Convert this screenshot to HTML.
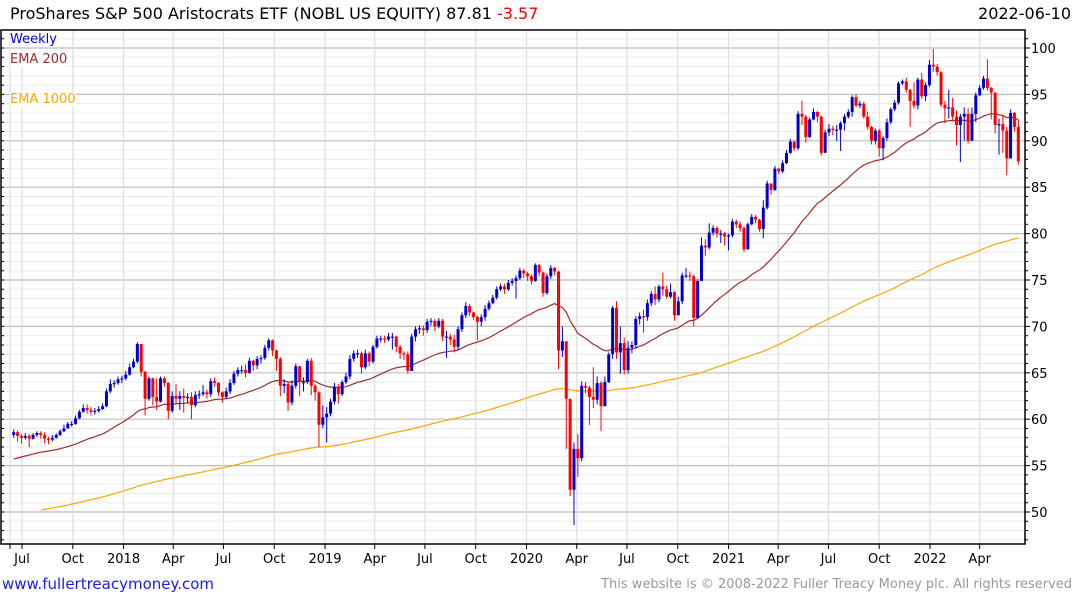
<!DOCTYPE html>
<html><head><meta charset="utf-8"><style>
html,body{margin:0;padding:0;background:#fff;}
body{width:1075px;height:600px;overflow:hidden;position:relative;font-family:"DejaVu Sans","Liberation Sans",sans-serif;}
.t{position:absolute;white-space:nowrap;}
</style></head><body>
<div class="t" style="left:10px;top:4px;font-size:16px;color:#000;">ProShares S&amp;P 500 Aristocrats ETF (NOBL US EQUITY) 87.81 <span style="color:#e00;">-3.57</span></div>
<div class="t" style="right:4px;top:4px;font-size:16px;color:#000;">2022-06-10</div>
<svg id="chart" width="1075" height="600" style="position:absolute;left:0;top:0;" xmlns="http://www.w3.org/2000/svg"></svg>
<div class="t" style="left:10px;top:32px;font-size:13px;color:#0000dd;background:#fff;">Weekly</div>
<div class="t" style="left:10px;top:52px;font-size:13px;color:#a52a2a;background:#fff;">EMA 200</div>
<div class="t" style="left:10px;top:92px;font-size:13px;color:#ffa500;background:#fff;">EMA 1000</div>
<div class="t" style="left:2px;top:575px;font-size:15px;color:#1a1aee;">www.fullertreacymoney.com</div>
<div class="t" style="right:3px;top:577px;font-size:13px;color:#999;">This website is © 2008-2022 Fuller Treacy Money plc. All rights reserved</div>
<script>
const closes=[58.6,58.2,58.0,58.2,57.9,58.3,58.5,58.3,57.9,57.8,58.0,58.3,58.7,59.0,59.5,59.5,60.1,60.8,61.2,61.0,60.8,60.9,61.1,61.4,63.0,63.8,63.9,64.3,64.4,64.8,65.6,66.2,68.1,65.1,62.2,64.4,62.4,61.9,64.4,63.9,60.9,62.5,62.2,62.5,62.3,62.4,61.5,62.6,62.7,62.9,62.7,64.1,63.9,62.9,62.4,63.0,63.9,64.9,65.3,65.3,65.0,66.3,65.8,66.5,66.6,67.7,68.5,67.4,66.5,63.6,63.8,61.8,63.6,65.7,64.0,64.0,66.3,63.6,62.9,59.4,60.2,60.6,61.9,63.5,62.7,64.0,64.6,66.5,67.1,67.1,65.6,67.1,66.2,67.8,68.7,68.7,68.6,68.9,68.9,67.8,67.1,67.0,65.2,68.9,69.7,69.8,69.6,70.5,70.6,70.0,70.6,68.9,68.9,68.6,67.8,69.7,71.2,72.2,71.5,71.0,70.5,71.0,71.9,72.5,73.1,74.0,74.3,74.0,74.7,74.9,75.2,76.0,75.7,75.4,74.9,76.6,75.8,73.6,75.4,76.3,75.9,67.4,68.4,62.2,52.4,56.8,55.8,63.6,63.4,62.4,62.1,63.9,61.4,64.0,67.0,72.0,67.2,68.2,65.3,67.7,68.0,70.8,71.1,71.0,72.5,73.5,72.9,74.3,74.0,73.2,73.7,71.2,72.7,75.5,75.5,75.4,70.9,74.9,78.7,78.5,80.1,80.6,80.0,80.0,79.7,79.8,81.3,81.0,80.6,78.3,81.0,81.8,81.5,80.5,82.8,85.4,84.7,87.0,86.7,87.6,88.7,89.9,89.2,92.9,92.6,90.4,92.3,93.1,92.6,88.7,90.9,91.3,91.2,91.2,91.9,92.6,93.1,94.7,93.8,94.0,92.6,91.5,90.0,91.1,89.2,90.3,92.0,93.4,94.1,96.2,96.4,95.5,94.3,93.8,96.6,94.8,96.0,98.2,98.0,97.4,93.9,93.5,93.6,92.6,91.7,92.6,92.9,90.0,92.9,94.9,95.7,96.7,95.7,95.2,91.7,91.8,91.1,88.1,93.0,91.5,87.8];
const highs=[58.9,58.8,58.4,58.5,58.4,58.5,58.7,58.7,58.6,58.1,58.3,58.5,58.9,59.4,59.7,59.8,60.4,61.0,61.6,61.6,61.3,61.2,61.4,61.7,63.3,64.3,64.2,64.6,64.7,65.2,66.0,66.5,68.3,68.0,65.2,64.6,64.5,64.4,64.6,64.6,64.0,63.0,63.8,63.0,63.3,62.8,62.9,63.0,63.1,63.7,63.2,64.4,64.5,64.0,63.0,63.4,64.3,65.2,65.6,65.8,65.9,66.6,66.4,66.8,66.9,68.0,68.7,68.6,67.5,66.7,64.3,64.0,64.2,66.0,65.8,64.5,66.5,66.6,63.8,63.0,61.5,61.3,62.2,63.9,63.8,64.2,65.0,66.9,67.4,67.5,67.3,67.5,67.3,68.0,69.0,69.0,69.0,69.3,69.3,69.0,68.0,67.3,67.3,69.2,70.0,70.1,70.1,70.8,70.9,70.8,70.9,70.8,69.5,69.2,69.1,70.0,71.5,72.6,72.4,71.6,71.2,71.3,72.3,72.8,73.4,74.3,74.6,74.6,75.0,75.2,75.5,76.3,76.2,75.9,75.6,76.8,76.7,75.9,75.7,76.6,76.4,76.0,70.0,66.8,60.0,57.5,58.4,64.1,64.0,63.6,65.6,64.6,64.1,64.6,67.2,72.2,72.7,70.0,68.8,68.4,68.4,71.1,71.5,71.8,72.9,73.8,74.3,74.5,75.8,74.4,74.6,73.8,73.2,75.8,76.3,75.9,75.6,75.1,79.6,79.4,81.1,80.9,80.8,80.4,80.2,80.0,81.6,81.5,81.3,80.8,81.2,82.1,82.0,81.6,83.6,85.7,85.4,87.3,87.1,87.9,89.0,90.2,90.0,93.2,94.3,92.8,92.5,93.5,93.2,92.7,91.2,91.8,91.6,91.7,92.1,92.9,93.4,94.9,95.0,94.3,94.2,93.1,91.6,91.3,91.3,90.5,92.4,93.6,94.4,96.4,96.6,96.8,95.6,96.3,96.8,97.3,96.3,98.7,99.9,98.3,97.5,94.3,95.5,94.6,93.3,92.9,93.6,93.5,93.6,95.2,96.0,97.0,98.8,95.8,95.2,92.4,92.8,91.5,93.4,93.1,92.3];
const lows=[58.0,57.6,57.4,57.8,57.0,57.8,58.1,57.9,57.4,57.3,57.6,57.9,58.2,58.6,59.0,59.2,59.4,60.0,60.7,60.6,60.4,60.5,60.7,61.0,61.3,62.8,63.4,63.7,63.9,64.2,64.7,65.5,66.0,64.6,60.4,62.0,61.5,61.0,61.8,63.5,60.0,60.7,61.6,61.0,60.7,61.8,60.0,61.3,62.2,62.5,62.2,62.4,63.5,62.5,61.8,62.2,62.7,63.7,64.6,64.9,64.5,64.9,65.2,65.4,66.0,66.4,67.4,66.8,65.2,62.5,62.8,60.9,61.5,63.3,62.5,63.0,63.8,62.6,62.0,57.0,59.0,57.5,60.3,61.6,61.7,62.5,63.8,64.3,66.2,66.6,64.9,65.4,65.7,66.0,67.6,68.3,68.2,68.4,67.5,67.2,66.5,66.4,64.9,65.2,68.4,69.2,69.0,69.3,70.1,69.5,69.8,68.4,66.6,68.0,67.2,67.4,69.4,70.9,71.1,70.7,68.5,70.0,70.6,71.7,72.4,72.9,73.8,73.5,73.8,74.4,73.0,75.0,75.2,74.9,74.5,74.8,75.4,73.2,73.4,75.1,75.5,65.4,66.7,56.8,51.7,48.6,53.8,55.5,62.8,59.4,61.2,61.6,58.7,63.2,63.9,66.5,66.5,64.9,64.8,64.9,67.1,67.6,70.2,69.3,70.6,72.2,72.3,72.6,73.3,73.0,73.0,70.6,71.4,72.4,75.2,74.9,70.0,71.3,76.6,77.6,78.3,79.8,79.6,79.0,78.7,78.2,79.6,80.6,80.2,78.0,78.3,80.9,81.1,80.2,79.5,82.6,84.2,84.6,86.4,86.5,87.5,88.6,88.9,89.0,91.7,89.8,90.3,92.2,92.0,88.4,88.9,90.5,90.6,90.0,88.9,91.1,92.4,92.6,93.6,93.5,92.4,91.2,89.6,89.6,88.3,87.9,90.0,91.8,93.2,93.9,96.0,95.2,91.5,93.5,93.4,94.5,94.3,95.8,97.4,97.0,93.6,91.9,92.4,92.1,89.5,87.7,90.0,89.7,90.1,92.0,94.8,95.5,95.4,92.3,90.8,88.5,88.7,86.3,88.2,91.0,87.4];
const yTicks=[50,55,60,65,70,75,80,85,90,95,100];
const xTickLabels=["Jul","Oct","2018","Apr","Jul","Oct","2019","Apr","Jul","Oct","2020","Apr","Jul","Oct","2021","Apr","Jul","Oct","2022","Apr"];
const xTickDates=["2017-07-01","2017-10-01","2018-01-01","2018-04-01","2018-07-01","2018-10-01","2019-01-01","2019-04-01","2019-07-01","2019-10-01","2020-01-01","2020-04-01","2020-07-01","2020-10-01","2021-01-01","2021-04-01","2021-07-01","2021-10-01","2022-01-01","2022-04-01"];
const lastDate="2022-06-10";
const ema200Period=40, ema200Seed=55.7;
const ema1000Period=200, ema1000Seed=50.2, ema1000Start=7;

const svg=document.getElementById('chart');
const NS='http://www.w3.org/2000/svg';
const L=1,R=1025,T=30,B=544;
const DAY=86400000;
const d0=Date.parse("2017-07-01");
const pxPerDay=(930-22)/(Date.parse("2022-01-01")-d0)*DAY;
function xOfDate(ms){return 22+(ms-d0)/DAY*pxPerDay;}
function yOf(p){return 512-(p-50)*9.28;}
const n=closes.length;
const lastMs=Date.parse(lastDate);
function xOf(i){return xOfDate(lastMs-(n-1-i)*7*DAY);}
function mk(tag,attrs,parent){const e=document.createElementNS(NS,tag);for(const k in attrs)e.setAttribute(k,attrs[k]);(parent||svg).appendChild(e);return e;}

const grid=mk('g',{});


for(let p=47;p<=101;p++){
  const y=yOf(p);if(y<T||y>B)continue;
  const g=mk('line',{x1:L,x2:R,y1:y,y2:y,stroke:p%5===0?'#bdbdbd':'#ececec','stroke-width':p%5===0?1.2:1},grid);
  
  
}
const vx=[10].concat(xTickDates.map(d=>xOfDate(Date.parse(d))));
vx.forEach(x=>{
  const g=mk('line',{x1:x,x2:x,y1:T,y2:B,stroke:'#dedede','stroke-width':1.2},grid);
  
  
});

// EMAs
function emaSeries(period,seed,start){const a=2/(period+1);let e=seed;const out=[];for(let i=0;i<n;i++){if(i<start){out.push(null);continue;}if(i>start)e=e+a*(closes[i]-e);out.push(e);}return out;}
const e1000=emaSeries(ema1000Period,ema1000Seed,ema1000Start);
const e200=emaSeries(ema200Period,ema200Seed,0);
function drawLine(arr,color,name){
  let d='';arr.forEach((v,i)=>{if(v==null)return;d+=(d?'L':'M')+xOf(i).toFixed(1)+' '+yOf(v).toFixed(1);});
  const p=mk('path',{d:d,fill:'none',stroke:color,'stroke-width':1.2});
  
  
}
drawLine(e1000,'#ffa500','ema-1000-line');
drawLine(e200,'#a52a2a','ema-200-line');

// candles
const cg=mk('g',{});


for(let i=0;i<n;i++){
  const o=i>0?closes[i-1]:closes[i]-0.3, c=closes[i];
  const col=c>=o?'#0000cc':'#ff0000';
  const x=xOf(i);
  const w=mk('line',{x1:x,x2:x,y1:yOf(highs[i]),y2:yOf(lows[i]),stroke:col,'stroke-width':1},cg);
  
  
  const yt=yOf(Math.max(o,c)),yb=yOf(Math.min(o,c));
  const r=mk('rect',{x:x-1.5,y:yt,width:3,height:Math.max(1.2,yb-yt),fill:col},cg);
  
  
}

// frame
const fr=mk('path',{d:`M${L} ${T}H${R}V${B}H${L}Z`,fill:'none',stroke:'#000','stroke-width':1.5});


// right axis ticks & labels
for(let p=47;p<=101;p++){
  const y=yOf(p);if(y<T||y>B)continue;
  const t=mk('line',{x1:R,x2:R+(p%5===0?5:3),y1:y,y2:y,stroke:'#000','stroke-width':1});
  
  
  const tl=mk('line',{x1:L,x2:L+3,y1:y,y2:y,stroke:'#000','stroke-width':1});
  
  
}
yTicks.forEach(p=>{
  const t=mk('text',{x:1031,y:yOf(p)+5,'font-size':13,'font-family':'DejaVu Sans, Liberation Sans, sans-serif',fill:'#000'});
  t.textContent=p;
  
  
});
vx.forEach(x=>{
  const t=mk('line',{x1:x,x2:x,y1:B,y2:B+5,stroke:'#000','stroke-width':1});
  
  
});
xTickLabels.forEach((lab,i)=>{
  const t=mk('text',{x:xOfDate(Date.parse(xTickDates[i])),y:563,'font-size':13,'text-anchor':'middle','font-family':'DejaVu Sans, Liberation Sans, sans-serif',fill:'#000'});
  t.textContent=lab;
  
  
});
</script>
</body></html>
